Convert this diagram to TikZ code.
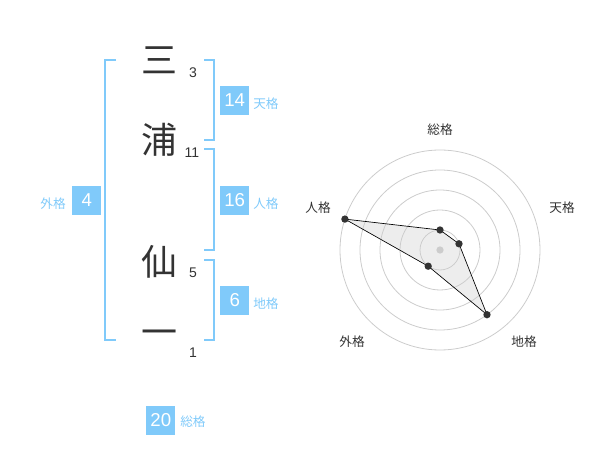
\documentclass[tikz,border=0pt]{standalone}
\usepackage{fontspec}
\setmainfont{Liberation Sans}
\newfontfamily\jpfont{Noto Sans CJK JP}
\definecolor{kblue}{RGB}{128,202,250}
\definecolor{kdark}{RGB}{51,51,51}
\definecolor{kgrid}{RGB}{204,204,204}
\begin{document}
\begin{tikzpicture}[x=0.75pt,y=-0.75pt,
  bigchar/.style={inner sep=0pt,text=kdark,font=\jpfont\fontsize{27}{27}\selectfont},
  stroke/.style={inner sep=0pt,text=kdark,font=\fontsize{10.5}{11}\selectfont},
  numbox/.style={fill=kblue,text=white,minimum size=21.75pt,inner sep=0pt,font=\fontsize{14}{15}\selectfont},
  kaku/.style={inner sep=0pt,text=kblue,font=\jpfont\fontsize{9.5}{10}\selectfont},
  bracket/.style={draw=kblue,line width=1.5pt},
  grid/.style={draw=kgrid,line width=0.6pt},
  rlabel/.style={inner sep=0pt,text=kdark,font=\jpfont\fontsize{9.5}{10}\selectfont},
  rdot/.style={circle,fill=kdark,inner sep=0pt,minimum size=5.5pt}]
\useasboundingbox (0,0) rectangle (600,470);
% characters
\node[bigchar] (c1) at (159,60) {三};
\node[bigchar] (c2) at (159,140) {浦};
\node[bigchar] (c3) at (159,262) {仙};
\node[bigchar] (c4) at (159,338) {一};
\node[stroke] (s1) at (193,73) {3};
\node[stroke] (s2) at (192,153) {11};
\node[stroke] (s3) at (193,273) {5};
\node[stroke] (s4) at (193,353) {1};
% brackets
\coordinate (la) at (116,60); \coordinate (lb) at (116,340);
\draw[bracket] (la) -- ++(-11,0) |- (lb);
\coordinate (ta) at (204,60); \coordinate (tb) at (204,140);
\draw[bracket] (ta) -- ++(10,0) |- (tb);
\coordinate (ja) at (204,149); \coordinate (jb) at (204,250);
\draw[bracket] (ja) -- ++(10,0) |- (jb);
\coordinate (ca) at (204,260); \coordinate (cb) at (204,340);
\draw[bracket] (ca) -- ++(10,0) |- (cb);
% boxes
\node[numbox] (b14) at (234.7,100.5) {14};
\node[kaku,anchor=west] (k14) at (253,104) {天格};
\node[numbox] (b16) at (234.7,200.5) {16};
\node[kaku,anchor=west] (k16) at (253,204) {人格};
\node[numbox] (b6) at (234.7,300.5) {6};
\node[kaku,anchor=west] (k6) at (253,304) {地格};
\node[numbox] (b4) at (86.7,200.5) {4};
\node[kaku,anchor=east] (k4) at (66,204) {外格};
\node[numbox] (b20) at (160.8,420.5) {20};
\node[kaku,anchor=west] (k20) at (180,422) {総格};
% radar
\coordinate (O) at (440,250);
\foreach \r in {20,40,60,80,100} \draw[grid] (O) circle[radius=\r];
\coordinate (p1) at (440,230);
\coordinate (p2) at (459.0,243.8);
\coordinate (p3) at (487.0,314.7);
\coordinate (p4) at (428.2,266.2);
\coordinate (p5) at (344.9,219.1);
\fill[kgrid,opacity=0.35] (p1) -- (p2) -- (p3) -- (p4) -- (p5) -- cycle;
\draw[black,line width=0.5pt] (p1) -- (p2) -- (p3) -- (p4) -- (p5) -- cycle;
\node[circle,fill=kgrid,inner sep=0pt,minimum size=5.5pt] (cen) at (O) {};
\foreach \p in {p1,p2,p3,p4,p5} \node[rdot] (d\p) at (\p) {};
\node[rlabel] (r1) at (440,130) {総格};
\node[rlabel] (r2) at (562,208) {天格};
\node[rlabel] (r3) at (318,208) {人格};
\node[rlabel] (r4) at (352,342) {外格};
\node[rlabel] (r5) at (524,342) {地格};
\end{tikzpicture}
\end{document}
